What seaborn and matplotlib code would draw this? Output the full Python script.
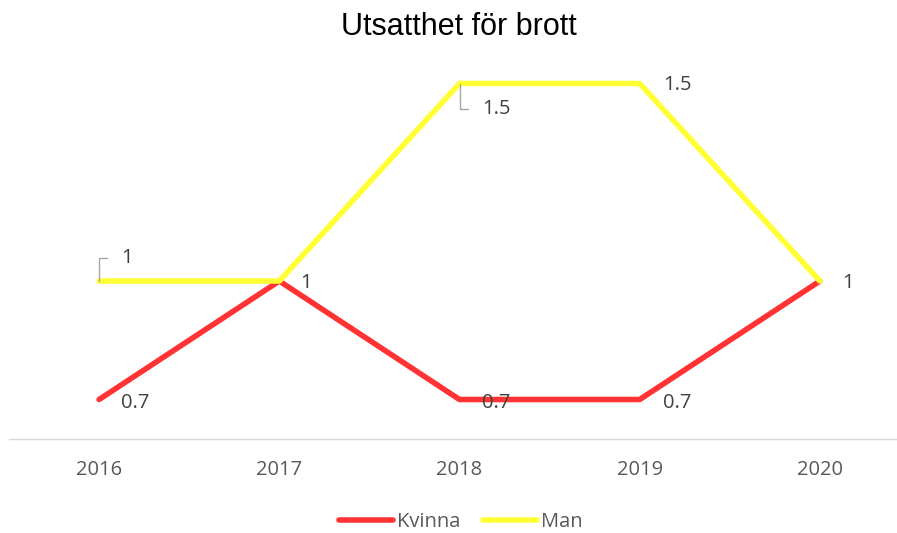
import matplotlib
matplotlib.use("Agg")
import matplotlib.pyplot as plt
import seaborn as sns
import pandas as pd

years = ["2016", "2017", "2018", "2019", "2020"]
kvinna = [0.7, 1, 0.7, 0.7, 1]
man = [1, 1, 1.5, 1.5, 1]
series_names = ["Kvinna", "Man"]
colors = {"Kvinna": "#FF3333", "Man": "#FFFF33"}

rows = []
for name, vals in zip(series_names, [kvinna, man]):
    for i, (y, v) in enumerate(zip(years, vals)):
        rows.append({"pos": i, "year": y, "value": v, "series": name})
df = pd.DataFrame(rows)

sns.set_style("white")
plt.rcParams["font.family"] = ["Open Sans", "DejaVu Sans"]

W, H = 897, 533
fig = plt.figure(figsize=(W / 100, H / 100), dpi=100)
left_px, right_px = 9, 910
top_px, bot_px = 44, 439
ax = fig.add_axes([left_px / W, 1 - bot_px / H, (right_px - left_px) / W, (bot_px - top_px) / H])

sns.lineplot(data=df, x="pos", y="value", hue="series", palette=colors,
             linewidth=4.0, ax=ax, legend=False, sort=False)

ax.set_xlim(-0.5, 4.5)
ax.set_ylim(0.6, 1.6)
ax.set_xticks(range(len(years)))
ax.set_xticklabels(years, fontsize=14.5, color="#595959")
ax.tick_params(axis="x", length=0, pad=15)
ax.set_yticks([])
ax.set_xlabel("")
ax.set_ylabel("")
for s in ["top", "right", "left"]:
    ax.spines[s].set_visible(False)
ax.spines["bottom"].set_color("#D9D9D9")
ax.spines["bottom"].set_linewidth(1.0)

lab_kw = dict(textcoords="offset points", fontsize=14.5, color="#404040", va="center", ha="left")
p = 0.72  # px -> pt

# Man labels
ax.annotate("1", xy=(0, man[0]), xytext=(22 * p, 23 * p), **lab_kw,
            arrowprops=dict(arrowstyle="-", color="#A6A6A6", lw=1,
                            connectionstyle="angle,angleA=0,angleB=90,rad=0",
                            relpos=(0, 0.5), shrinkA=8, shrinkB=0))
ax.annotate("1", xy=(1, man[1]), xytext=(21 * p, -2 * p), **lab_kw)
ax.annotate("1.5", xy=(2, man[2]), xytext=(23 * p, -25 * p), **lab_kw,
            arrowprops=dict(arrowstyle="-", color="#A6A6A6", lw=1,
                            connectionstyle="angle,angleA=0,angleB=90,rad=0",
                            relpos=(0, 0.5), shrinkA=8, shrinkB=0))
ax.annotate("1.5", xy=(3, man[3]), xytext=(23 * p, -2 * p), **lab_kw)
ax.annotate("1", xy=(4, man[4]), xytext=(22 * p, -2 * p), **lab_kw)

# Kvinna labels
ax.annotate("0.7", xy=(0, kvinna[0]), xytext=(22 * p, -3 * p), **lab_kw)
ax.annotate("0.7", xy=(2, kvinna[2]), xytext=(22 * p, -3 * p), **lab_kw)
ax.annotate("0.7", xy=(3, kvinna[3]), xytext=(23 * p, -3 * p), **lab_kw)

fig.text(459 / W, 1 - 27 / H, "Utsatthet för brott", ha="center", va="center",
         fontsize=22, color="#000000", family=["Liberation Sans", "DejaVu Sans"])

handles = [plt.Line2D([], [], color=colors[n], lw=4.0) for n in series_names]
fig.legend(handles, series_names, loc="center", bbox_to_anchor=(461 / W, 1 - 522 / H),
           ncol=2, frameon=False, fontsize=14.5, handlelength=2.7, handletextpad=0.2,
           columnspacing=1.1, labelcolor="#595959")

fig.savefig("out.png", dpi=100)
